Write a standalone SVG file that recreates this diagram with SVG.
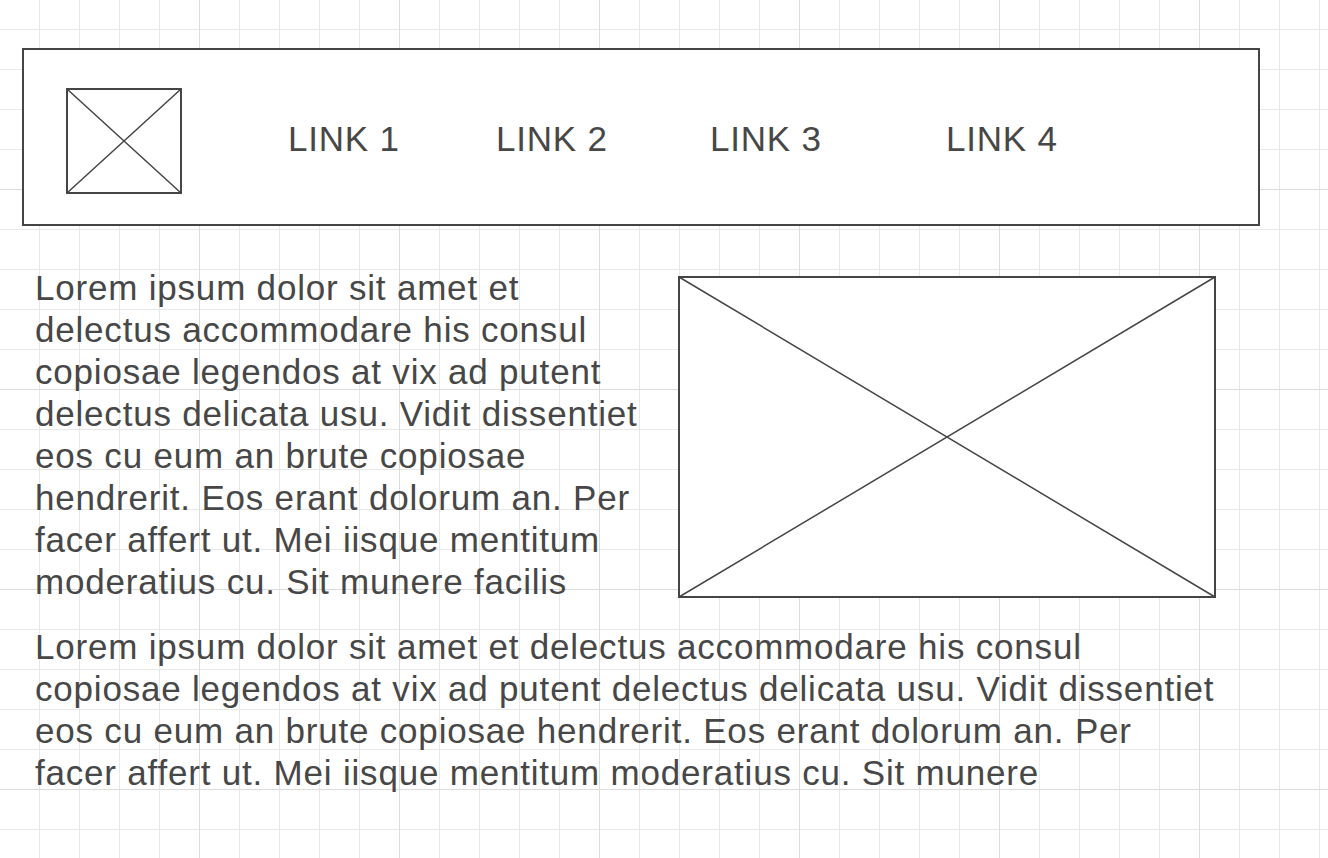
<svg xmlns="http://www.w3.org/2000/svg" width="1328" height="858" viewBox="0 0 1328 858">
<defs>
<pattern id="minor" x="39" y="29" width="40" height="40" patternUnits="userSpaceOnUse">
<path d="M0.5 0V40M0 0.5H40" fill="none" stroke="#e8e8e8" stroke-width="1"/>
</pattern>
<pattern id="major" x="199" y="189" width="200" height="200" patternUnits="userSpaceOnUse">
<path d="M0.5 0V200M0 0.5H200" fill="none" stroke="#dcdcdc" stroke-width="1"/>
</pattern>
</defs>
<style>
.box{fill:#ffffff;stroke:#454545;stroke-width:2}
.x{fill:none;stroke:#454545;stroke-width:1.5}
.t{font-family:"Liberation Sans",Arial,sans-serif;fill:#474747;font-size:35px;letter-spacing:0.8px}
</style>
<rect width="1328" height="858" fill="#ffffff"/>
<rect width="1328" height="858" fill="url(#minor)"/>
<rect width="1328" height="858" fill="url(#major)"/>
<g id="header">
<rect class="box" x="23" y="49" width="1236" height="176"/>
</g>
<g id="logo">
<rect class="box" x="67" y="89" width="114" height="104"/>
<path class="x" d="M67 89L181 193M181 89L67 193"/>
</g>
<g id="link1"><text class="t" x="288" y="151">LINK 1</text></g>
<g id="link2"><text class="t" x="496" y="151">LINK 2</text></g>
<g id="link3"><text class="t" x="710" y="151">LINK 3</text></g>
<g id="link4"><text class="t" x="946" y="151">LINK 4</text></g>
<g id="text1">
<text class="t" x="35" y="300">Lorem ipsum dolor sit amet et</text>
<text class="t" x="35" y="342">delectus accommodare his consul</text>
<text class="t" x="35" y="384">copiosae legendos at vix ad putent</text>
<text class="t" x="35" y="426">delectus delicata usu. Vidit dissentiet</text>
<text class="t" x="35" y="468">eos cu eum an brute copiosae</text>
<text class="t" x="35" y="510">hendrerit. Eos erant dolorum an. Per</text>
<text class="t" x="35" y="552">facer affert ut. Mei iisque mentitum</text>
<text class="t" x="35" y="594">moderatius cu. Sit munere facilis</text>
</g>
<g id="image">
<rect class="box" x="679" y="277" width="536" height="320"/>
<path class="x" d="M679 277L1215 597M1215 277L679 597"/>
</g>
<g id="text2">
<text class="t" x="35" y="659">Lorem ipsum dolor sit amet et delectus accommodare his consul</text>
<text class="t" x="35" y="701">copiosae legendos at vix ad putent delectus delicata usu. Vidit dissentiet</text>
<text class="t" x="35" y="743">eos cu eum an brute copiosae hendrerit. Eos erant dolorum an. Per</text>
<text class="t" x="35" y="785">facer affert ut. Mei iisque mentitum moderatius cu. Sit munere</text>
</g>
<g id="connectors"/>
</svg>
